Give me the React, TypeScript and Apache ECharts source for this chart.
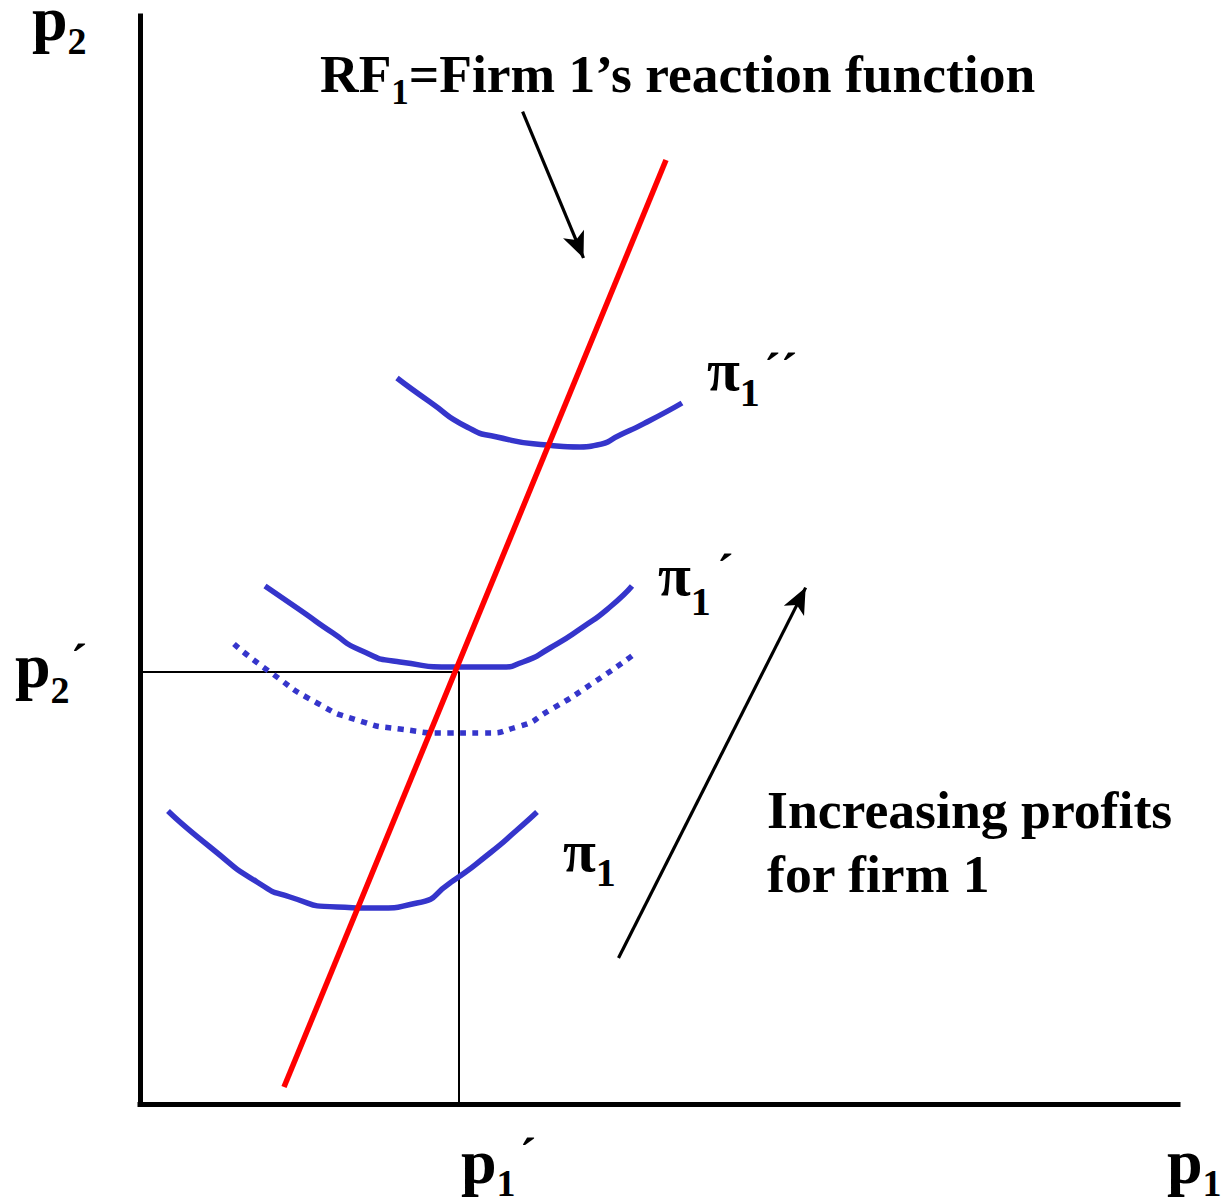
import React, { useEffect, useRef } from "react";
import * as echarts from "echarts";

// Coordinates: x = distance right of the p2 axis, y = distance above the p1 axis
const X_MAX = 1038;
const Y_MAX = 1088;

const rf1Line = [
  [144, 17],
  [526, 944],
];
const profitHigh = [
  [257, 726], [290, 702], [327, 677], [357, 667], [407, 659],
  [440, 657], [457, 659], [480, 669], [507, 682], [542, 701],
];
const profitMid = [
  [125, 518], [160, 494], [193, 471], [220, 454], [260, 442], [317, 437],
  [360, 437], [383, 442], [410, 456], [443, 477], [470, 497], [492, 518],
];
const profitDotted = [
  [94, 460], [130, 432], [177, 401], [217, 384], [260, 375], [310, 371],
  [343, 371], [377, 377], [410, 394], [453, 421], [493, 449],
];
const profitLow = [
  [28, 293], [70, 257], [117, 222], [150, 207], [197, 197], [237, 196],
  [277, 201], [310, 221], [350, 251], [377, 274], [397, 292],
];
const guideLines = [
  [0, 432],
  [319, 432],
  [319, 0],
];
const arrowRF = [
  [382.6, 992.3],
  [448.5, 834],
];
const arrowProfit = [
  [478.5, 146],
  [671.5, 528],
];

const BLUE = "#3535CB";
const FONT = '"Liberation Serif", "Times New Roman", serif';

type Piece = { t: string; size: number; dy?: number; dx?: number };

function measure(t: string, size: number): number {
  const c = document.createElement("canvas").getContext("2d");
  if (!c) return t.length * size * 0.5;
  c.font = `bold ${size}px ${FONT}`;
  return c.measureText(t).width;
}

function textRun(x: number, baseline: number, pieces: Piece[]) {
  const out: any[] = [];
  let cx = x;
  for (const p of pieces) {
    cx += p.dx || 0;
    const b = baseline + (p.dy || 0);
    out.push({
      type: "text",
      z: 100,
      silent: true,
      style: {
        text: p.t,
        x: cx,
        y: b - 0.3375 * p.size,
        fontSize: p.size,
        fontWeight: "bold",
        fontFamily: FONT,
        fill: "#000",
        align: "left",
        verticalAlign: "middle",
      },
    });
    cx += measure(p.t, p.size);
  }
  return out;
}

function arrowEnd(seg: number[][], head: number) {
  const [a, b] = seg;
  const dx = b[0] - a[0];
  const dy = b[1] - a[1];
  const len = Math.sqrt(dx * dx + dy * dy);
  return [b[0] - (dx / len) * head, b[1] - (dy / len) * head];
}

export default function App() {
  const ref = useRef<HTMLDivElement>(null);
  useEffect(() => {
    if (!ref.current) return;
    const chart = echarts.init(ref.current, undefined, { renderer: "svg" });
    const HEAD = 26;
    const curve = (data: number[][], dashed: boolean) => ({
      type: "line",
      data,
      smooth: 0.65,
      symbol: "none",
      silent: true,
      lineStyle: {
        color: BLUE,
        width: 5.5,
        type: dashed ? [6, 6.5] : "solid",
        cap: "butt",
      },
      z: 3,
    });
    const graphics = [
      ...textRun(320, 92, [
        { t: "RF", size: 53.5 },
        { t: "1", size: 35, dy: 12 },
        { t: "=Firm 1\u2019s reaction function", size: 53.5 },
      ]),
      ...textRun(767, 828, [{ t: "Increasing profits", size: 53.7 }]),
      ...textRun(767, 892, [{ t: "for firm 1", size: 53.7 }]),
      // p2 axis title
      ...textRun(32, 40, [
        { t: "p", size: 64 },
        { t: "2", size: 38, dy: 14 },
      ]),
      // p2'
      ...textRun(15, 687, [
        { t: "p", size: 64 },
        { t: "2", size: 38, dy: 16 },
        { t: "\u00B4", size: 50, dy: -8, dx: 1 },
      ]),
      // p1'
      ...textRun(461, 1183, [
        { t: "p", size: 64 },
        { t: "1", size: 38, dy: 13 },
        { t: "\u00B4", size: 50, dy: -10, dx: 4 },
      ]),
      // p1 axis title
      ...textRun(1167, 1183, [
        { t: "p", size: 64 },
        { t: "1", size: 38, dy: 13 },
      ]),
      // pi1''
      ...textRun(707, 390, [
        { t: "\u03C0", size: 60 },
        { t: "1", size: 40, dy: 16 },
        { t: "\u00B4\u00B4", size: 50, dy: -2, dx: 4 },
      ]),
      // pi1'
      ...textRun(658, 595, [
        { t: "\u03C0", size: 60 },
        { t: "1", size: 40, dy: 20 },
        { t: "\u00B4", size: 50, dy: -6, dx: 6 },
      ]),
      // pi1
      ...textRun(563, 871, [
        { t: "\u03C0", size: 60 },
        { t: "1", size: 40, dy: 15 },
      ]),
    ];
    chart.setOption({
      animation: false,
      backgroundColor: "#fff",
      grid: { left: 140, right: 47, top: 16, bottom: 99, containLabel: false },
      xAxis: {
        type: "value",
        min: 0,
        max: X_MAX,
        axisLine: { show: true, lineStyle: { color: "#000", width: 5, cap: "square" } },
        axisTick: { show: false },
        axisLabel: { show: false },
        splitLine: { show: false },
      },
      yAxis: {
        type: "value",
        min: 0,
        max: Y_MAX,
        axisLine: { show: true, lineStyle: { color: "#000", width: 5, cap: "square" } },
        axisTick: { show: false },
        axisLabel: { show: false },
        splitLine: { show: false },
      },
      tooltip: { show: false },
      series: [
        {
          type: "line",
          data: guideLines,
          symbol: "none",
          silent: true,
          lineStyle: { color: "#000", width: 2 },
          z: 1,
          markLine: {
            silent: true,
            animation: false,
            label: { show: false },
            lineStyle: { color: "#000", width: 3.2, type: "solid" },
            data: [
              [
                { coord: arrowRF[0], symbol: "none" },
                { coord: arrowEnd(arrowRF, HEAD / 2), symbol: "arrow", symbolSize: [17, HEAD] },
              ],
              [
                { coord: arrowProfit[0], symbol: "none" },
                { coord: arrowEnd(arrowProfit, HEAD / 2), symbol: "arrow", symbolSize: [17, HEAD] },
              ],
            ],
          },
        },
        curve(profitHigh, false),
        curve(profitMid, false),
        curve(profitDotted, true),
        curve(profitLow, false),
        {
          type: "line",
          data: rf1Line,
          symbol: "none",
          silent: true,
          lineStyle: { color: "#FF0000", width: 5.5 },
          z: 4,
        },
      ],
      graphic: graphics,
    });
    return () => chart.dispose();
  }, []);
  return (
    <div
      ref={ref}
      style={{ position: "absolute", left: 0, top: 0, width: 1225, height: 1203 }}
    />
  );
}
